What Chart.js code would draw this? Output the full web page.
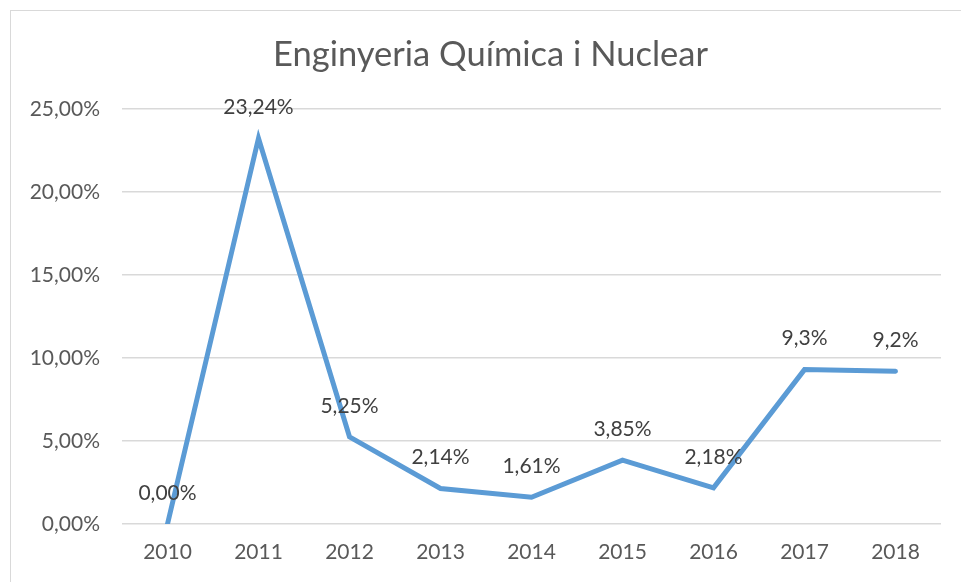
<!DOCTYPE html>
<html>
<head>
<meta charset="utf-8">
<script src="https://cdn.jsdelivr.net/npm/chart.js@4.4.1/dist/chart.umd.min.js"></script>
<style>
  html, body { margin: 0; padding: 0; background: #fff; }
  #wrap { width: 961px; height: 582px; position: relative; }
</style>
</head>
<body>
<div id="wrap"><canvas id="chart"></canvas></div>
<script>
const years = ['2010', '2011', '2012', '2013', '2014', '2015', '2016', '2017', '2018'];
const values = [0, 23.24, 5.25, 2.14, 1.61, 3.85, 2.18, 9.3, 9.2];
const valueLabels = ['0,00%', '23,24%', '5,25%', '2,14%', '1,61%', '3,85%', '2,18%', '9,3%', '9,2%'];
const chartTitle = 'Enginyeria Química i Nuclear';

const fontFamily = 'Lato, "Open Sans", sans-serif';

// light frame round the chart box, and the title centred on that box
const framePlugin = {
  id: 'frame',
  beforeDraw(chart) {
    const ctx = chart.ctx;
    ctx.save();
    ctx.strokeStyle = '#d9d9d9';
    ctx.lineWidth = 1;
    ctx.strokeRect(10.5, 10.5, chart.width + 20, chart.height + 20);
    ctx.font = '34.5px ' + fontFamily;
    ctx.fillStyle = '#595959';
    ctx.textAlign = 'center';
    ctx.textBaseline = 'middle';
    ctx.fillText(chartTitle, 490.5, 55);
    ctx.restore();
  }
};

// value labels above each point
const valueLabelPlugin = {
  id: 'valueLabels',
  afterDatasetsDraw(chart) {
    const ctx = chart.ctx;
    const meta = chart.getDatasetMeta(0);
    ctx.save();
    ctx.font = '21px ' + fontFamily;
    ctx.fillStyle = '#404040';
    ctx.textAlign = 'center';
    ctx.textBaseline = 'middle';
    meta.data.forEach((pt, i) => {
      ctx.fillText(valueLabels[i], pt.x, pt.y - 31);
    });
    ctx.restore();
  }
};

const ctx = document.getElementById('chart').getContext('2d');
new Chart(ctx, {
  type: 'line',
  data: {
    labels: years,
    datasets: [{
      label: chartTitle,
      data: values,
      borderColor: '#5b9bd5',
      borderWidth: 5,
      pointRadius: 0,
      tension: 0,
      borderCapStyle: 'round',
      borderJoinStyle: 'miter',
    }],
  },
  options: {
    responsive: true,
    maintainAspectRatio: false,
    animation: false,
    layout: {
      padding: { left: 0, right: 20, top: 109, bottom: 0 },
    },
    scales: {
      x: {
        offset: true,
        grid: { display: false, drawTicks: false },
        border: { display: false },
        ticks: {
          color: '#595959',
          font: { family: fontFamily, size: 21 },
          padding: 16,
          maxRotation: 0,
        },
        afterFit(scale) { scale.height = 58; },
      },
      y: {
        min: 0,
        max: 25,
        grid: { color: '#d9d9d9', lineWidth: 1.5, drawTicks: false },
        border: { display: false },
        ticks: {
          stepSize: 5,
          color: '#595959',
          font: { family: fontFamily, size: 21 },
          padding: 22,
          callback: (v) => v.toFixed(2).replace('.', ',') + '%',
        },
        afterFit(scale) { scale.width = 122; },
      },
    },
    plugins: {
      legend: { display: false },
      tooltip: { enabled: false },
      title: { display: false },
    },
  },
  plugins: [framePlugin, valueLabelPlugin],
});
</script>
</body>
</html>
